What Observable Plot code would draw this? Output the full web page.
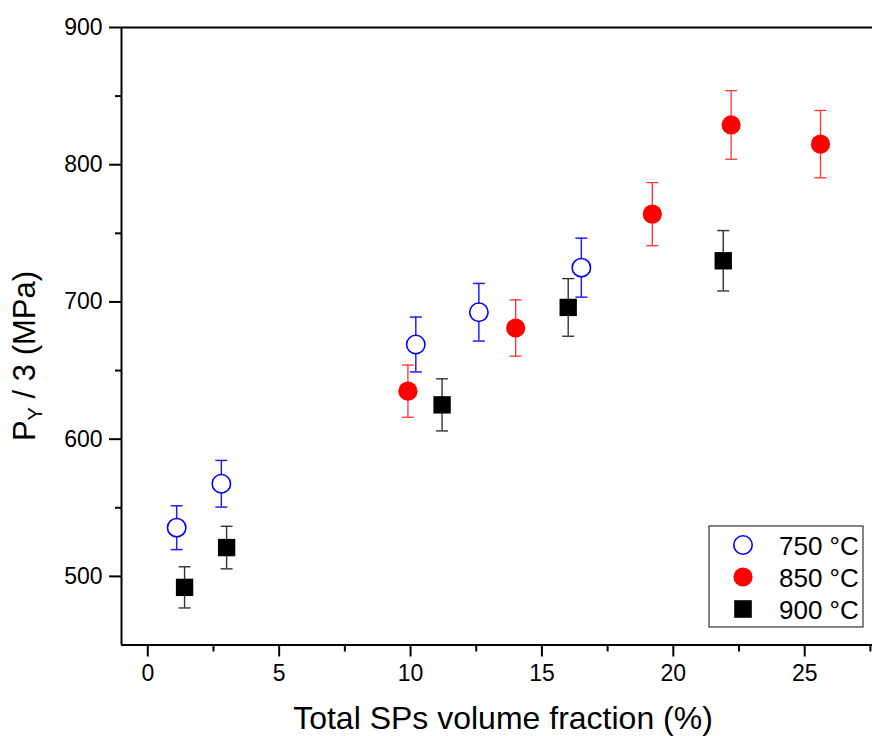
<!DOCTYPE html>
<html>
<head>
<meta charset="utf-8">
<script src="https://cdn.jsdelivr.net/npm/d3@7"></script>
<script src="https://cdn.jsdelivr.net/npm/@observablehq/plot@0.6"></script>
<style>
  body { margin: 0; background: #fff; }
  svg { font-family: "Liberation Sans", Arial, sans-serif; }
</style>
</head>
<body>
<div id="chart"></div>
<script>
// Series: [x (vol. fraction %), y (MPa), error (MPa)]
const series750x = [1.1, 2.8, 10.2, 12.6, 16.5];
const series750y = [535.5, 567.5, 669, 692.5, 725];
const series750e = [16, 17, 20, 21, 21.5];

const series850x = [9.9, 14.0, 19.2, 22.2, 25.6];
const series850y = [635, 681, 764, 829, 815];
const series850e = [19, 20.5, 23, 25, 24.5];

const series900x = [1.4, 3.0, 11.2, 16.0, 21.9];
const series900y = [492, 521, 625, 696, 730];
const series900e = [15, 15.5, 19, 21, 22];

const seriesLabels = ["750 °C", "850 °C", "900 °C"];
const xTicks = [0, 5, 10, 15, 20, 25];
const xMinorTicks = [2.5, 7.5, 12.5, 17.5, 22.5, 27.5];
const yTicks = [500, 600, 700, 800, 900];
const yMinorTicks = [550, 650, 750, 850];
const xTitle = "Total SPs volume fraction (%)";

const toRows = (xs, ys, es) => xs.map((x, i) => ({x, y: ys[i], lo: ys[i] - es[i], hi: ys[i] + es[i]}));
const d750 = toRows(series750x, series750y, series750e);
const d850 = toRows(series850x, series850y, series850e);
const d900 = toRows(series900x, series900y, series900e);

const capSymbol = {draw(ctx) { ctx.moveTo(-6, 0); ctx.lineTo(6, 0); }};

function errMarks(data, color, w) {
  return [
    Plot.ruleX(data, {x: "x", y1: "lo", y2: "hi", stroke: color, strokeWidth: w}),
    Plot.dot(data, {x: "x", y: "lo", symbol: capSymbol, fill: "none", stroke: color, strokeWidth: w}),
    Plot.dot(data, {x: "x", y: "hi", symbol: capSymbol, fill: "none", stroke: color, strokeWidth: w})
  ];
}

const chart = Plot.plot({
  width: 872,
  height: 736,
  marginLeft: 121,
  marginRight: 0,
  marginTop: 27,
  marginBottom: 91.5,
  style: {fontFamily: '"Liberation Sans", Arial, sans-serif', fontSize: "23px", background: "white", color: "black"},
  x: {domain: [-1, 27.58]},
  y: {domain: [450, 900]},
  marks: [
    Plot.axisY(yTicks, {tickSize: 12, tickPadding: 7, fontSize: 23, strokeWidth: 2, label: null}),
    Plot.axisY(yMinorTicks, {tickSize: 6, text: null, strokeWidth: 2, label: null}),
    Plot.axisX(xTicks, {tickSize: 12, tickPadding: 8, fontSize: 23, strokeWidth: 2, label: null}),
    Plot.axisX(xMinorTicks, {tickSize: 7, text: null, strokeWidth: 2, label: null}),
    Plot.ruleY([450], {strokeWidth: 2}),
    Plot.ruleY([900], {strokeWidth: 2}),
    Plot.ruleX([-1], {strokeWidth: 2}),
    ...errMarks(d900, "#333", 1.4),
    ...errMarks(d850, "#ff3030", 1.3),
    ...errMarks(d750, "#1f1fff", 1.5),
    Plot.dot(d900, {x: "x", y: "y", symbol: "square", r: 9.8, fill: "black"}),
    Plot.dot(d850, {x: "x", y: "y", r: 9.6, fill: "#ff0000"}),
    Plot.dot(d750, {x: "x", y: "y", r: 9.2, fill: "white", stroke: "#0000ff", strokeWidth: 1.6})
  ]
});

document.getElementById("chart").appendChild(chart);

const svg = d3.select(chart);
const font = '"Liberation Sans", Arial, sans-serif';

// make sure tick labels use the intended size
svg.selectAll('g[aria-label$="tick label"]')
  .attr("font-size", 23).style("font-size", "23px");

// X title
svg.append("text")
  .attr("x", 503).attr("y", 729)
  .attr("text-anchor", "middle")
  .attr("font-family", font).attr("font-size", 32).attr("fill", "black")
  .text(xTitle);

// Y title with subscript
const yt = svg.append("text")
  .attr("transform", "translate(35,356) rotate(-90)")
  .attr("text-anchor", "middle")
  .attr("font-family", font).attr("font-size", 31).attr("fill", "black");
yt.append("tspan").text("P");
yt.append("tspan").attr("font-size", 20).attr("dy", 7).text("Y");
yt.append("tspan").attr("dy", -7).text(" / 3 (MPa)");

// Legend
const lg = svg.append("g");
lg.append("rect").attr("x", 709).attr("y", 526).attr("width", 154).attr("height", 101)
  .attr("fill", "white").attr("stroke", "#333").attr("stroke-width", 1.2);
const ly = [545, 577, 609];
lg.append("circle").attr("cx", 743).attr("cy", ly[0]).attr("r", 9.2)
  .attr("fill", "white").attr("stroke", "#0000ff").attr("stroke-width", 1.6);
lg.append("circle").attr("cx", 743).attr("cy", ly[1]).attr("r", 9.6).attr("fill", "#ff0000");
lg.append("rect").attr("x", 743 - 8.8).attr("y", ly[2] - 8.8).attr("width", 17.6).attr("height", 17.6).attr("fill", "black");
seriesLabels.forEach((t, i) => {
  lg.append("text").attr("x", 779).attr("y", ly[i] + 9.5)
    .attr("text-anchor", "start")
    .attr("font-family", font).attr("font-size", 26).attr("fill", "black").text(t);
});
</script>
</body>
</html>
